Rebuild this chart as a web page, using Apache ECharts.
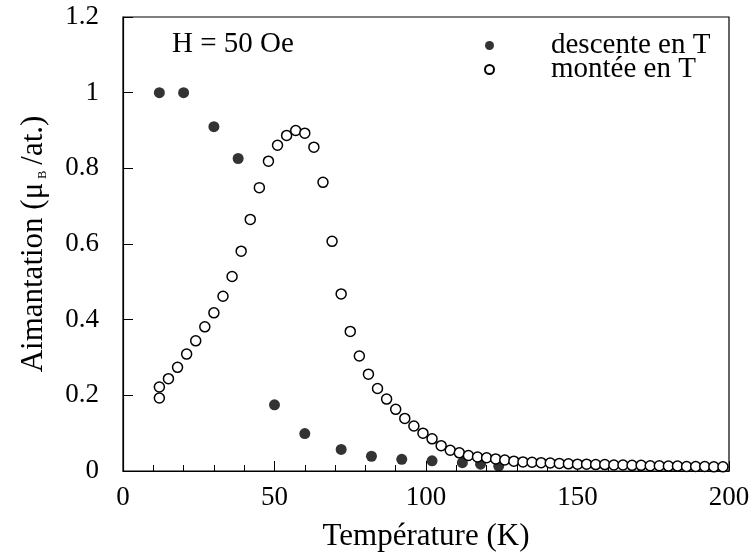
<!DOCTYPE html>
<html>
<head>
<meta charset="utf-8">
<script src="https://cdn.jsdelivr.net/npm/echarts@6/dist/echarts.min.js"></script>
<style>
  html, body { margin: 0; padding: 0; background: #fff; }
  #main { width: 753px; height: 557px; }
</style>
</head>
<body>
<div id="main"></div>
<script>
  // descente en T (filled)
  let descT = [12, 20, 30, 38, 50, 60, 72, 82, 92, 102, 112, 118, 124];
  let descM = [1.0, 1.0, 0.91, 0.826, 0.175, 0.099, 0.057, 0.039, 0.031, 0.027, 0.022, 0.018, 0.013];

  // montée en T (open)
  let monT = [12, 12, 15, 18, 21, 24, 27, 30, 33, 36, 39, 42, 45, 48, 51, 54, 57, 60, 63, 66,
    69, 72, 75, 78, 81, 84, 87, 90, 93, 96, 99, 102, 105, 108, 111, 114, 117, 120, 123, 126,
    129, 132, 135, 138, 141, 144, 147, 150, 153, 156, 159, 162, 165, 168, 171, 174, 177, 180,
    183, 186, 189, 192, 195, 198];
  let monM = [0.222, 0.193, 0.244, 0.274, 0.309, 0.344, 0.381, 0.418, 0.462, 0.514, 0.581, 0.665,
    0.749, 0.819, 0.861, 0.887, 0.900, 0.893, 0.856, 0.763, 0.607, 0.468, 0.369, 0.304, 0.256,
    0.218, 0.19, 0.163, 0.139, 0.119, 0.100, 0.085, 0.067, 0.055, 0.048, 0.041, 0.037, 0.035,
    0.032, 0.029, 0.026, 0.024, 0.023, 0.022, 0.021, 0.020, 0.019, 0.018, 0.018, 0.017, 0.017,
    0.016, 0.016, 0.015, 0.015, 0.014, 0.014, 0.013, 0.013, 0.012, 0.012, 0.012, 0.011, 0.011];

  let xTicks = [0, 50, 100, 150, 200];
  let yTicks = [0, 0.2, 0.4, 0.6, 0.8, 1, 1.2];

  let font = '"Liberation Serif", "Times New Roman", serif';

  function pairs(xs, ys) {
    return xs.map((x, i) => [x, ys[i]]);
  }

  let myChart = echarts.init(document.getElementById('main'));
  let option = {
    animation: false,
    backgroundColor: '#fff',
    textStyle: { fontFamily: font, color: '#000' },
    grid: {
      left: 123, right: 24, top: 17, bottom: 82,
      show: true, borderColor: '#000', borderWidth: 1.2,
      containLabel: false
    },
    // field annotation
    graphic: [{
      type: 'text',
      left: 172, top: 30,
      style: { text: 'H = 50 Oe', fontFamily: 'Liberation Serif', fontSize: 29, fill: '#000' }
    }],
    legend: {
      orient: 'vertical',
      left: 479, top: 26,
      itemWidth: 9, itemHeight: 9, itemGap: -5,
      textStyle: { fontFamily: font, fontSize: 29, color: '#000', padding: [0, 0, 0, 52] },
      data: ['descente en T', 'montée en T']
    },
    xAxis: {
      type: 'value',
      min: 0, max: 200, interval: 50,
      name: 'Température (K)',
      nameLocation: 'middle',
      nameGap: 50,
      nameTextStyle: { fontFamily: font, fontSize: 31, color: '#000' },
      axisLine: { lineStyle: { color: '#000', width: 1.2 } },
      axisTick: { inside: true, length: 10, lineStyle: { color: '#000' } },
      minorTick: { show: true, splitNumber: 5, length: 6, lineStyle: { color: '#000' } },
      splitLine: { show: false },
      axisLabel: {
        margin: 13, fontFamily: font, fontSize: 27, color: '#000',
        formatter: v => xTicks.includes(v) ? String(v) : ''
      }
    },
    yAxis: {
      type: 'value',
      min: 0, max: 1.2, interval: 0.2,
      name: 'Aimantation (μ{s|B}/at.)',
      nameLocation: 'middle',
      nameGap: 74,
      nameTextStyle: {
        fontFamily: font, fontSize: 31, color: '#000',
        rich: { s: { fontFamily: font, fontSize: 12, color: '#000', verticalAlign: 'bottom', padding: [16, 6, 0, 4] } }
      },
      axisLine: { lineStyle: { color: '#000', width: 1.2 } },
      axisTick: { inside: true, length: 10, lineStyle: { color: '#000' } },
      splitLine: { show: false },
      axisLabel: {
        margin: 24, fontFamily: font, fontSize: 27, color: '#000',
        formatter: v => {
          let r = Math.round(v * 10) / 10;
          return yTicks.includes(r) ? String(r) : '';
        }
      }
    },
    series: [
      {
        name: 'descente en T',
        type: 'scatter',
        symbol: 'circle',
        symbolSize: 11,
        itemStyle: { color: '#000' },
        data: pairs(descT, descM)
      },
      {
        name: 'montée en T',
        type: 'scatter',
        symbol: 'circle',
        symbolSize: 10,
        itemStyle: { color: '#fff', borderColor: '#000', borderWidth: 1.5, opacity: 1 },
        data: pairs(monT, monM)
      }
    ]
  };
  myChart.setOption(option);
</script>
</body>
</html>
